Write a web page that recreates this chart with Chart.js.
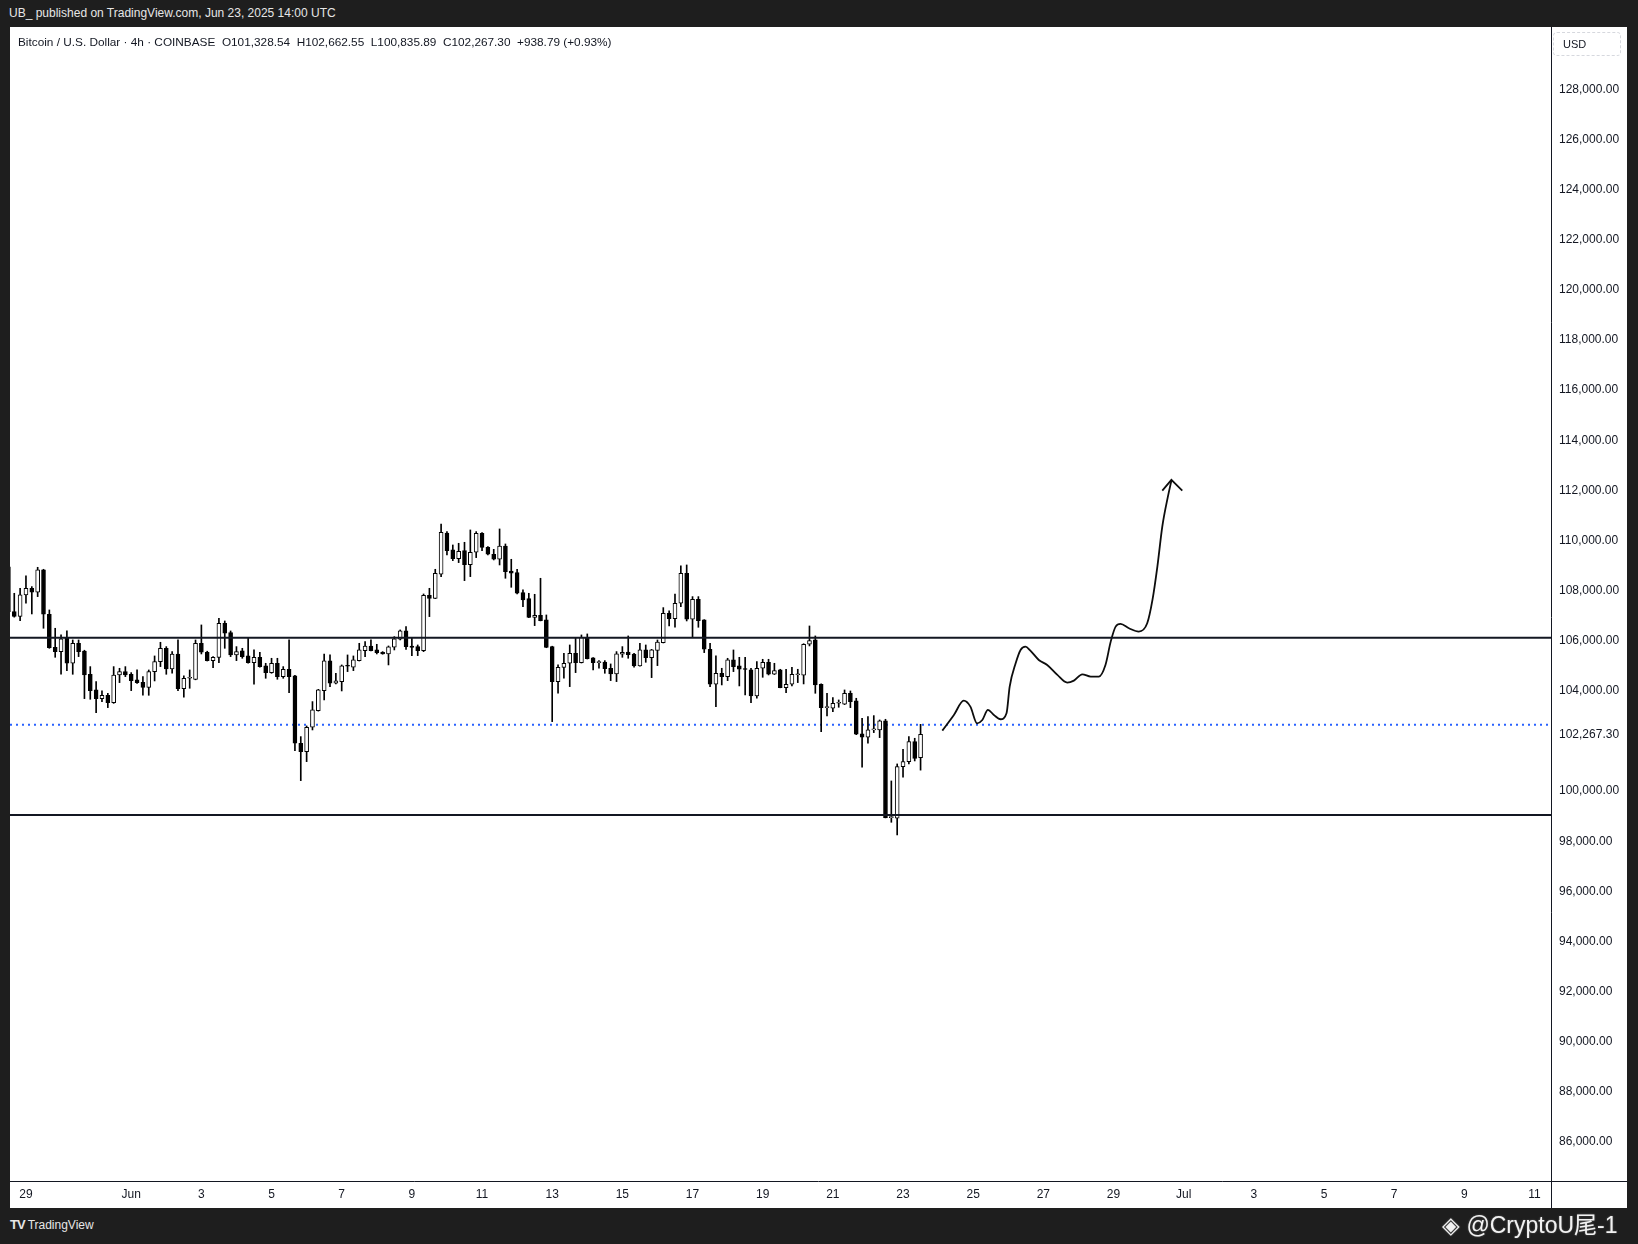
<!DOCTYPE html>
<html>
<head>
<meta charset="utf-8">
<script src="https://cdn.jsdelivr.net/npm/chart.js@4.4.1/dist/chart.umd.min.js"></script>
<style>
html,body{margin:0;padding:0;background:#1e1e1e;width:1638px;height:1244px;overflow:hidden;font-family:'Liberation Sans',Arial,sans-serif;}
#pub{position:absolute;left:9px;top:6px;color:#e6e6e6;font-size:12px;}
#panel{position:absolute;left:10px;top:27px;width:1617px;height:1181px;background:#fff;}
#chart{position:absolute;left:0;top:0;}
#legend{position:absolute;left:8px;top:8px;font-size:11.8px;color:#131722;white-space:pre;}
#usd{position:absolute;left:1543px;top:5px;border:1px dashed #d6d8de;border-radius:4px;font-size:11px;color:#131722;line-height:22px;padding-left:9px;box-sizing:border-box;width:68px;height:24px;}
#footer{position:absolute;left:10px;top:1217px;color:#e6e6e6;font-size:12px;}
#footer b{font-size:13px;letter-spacing:-1px;margin-right:3px;}
#mark{position:absolute;left:1442px;top:1206px;color:#f2f2f2;font-size:23px;font-family:'Liberation Sans','Noto Sans CJK SC',sans-serif;text-shadow:0 0 2px #666;}
</style>
</head>
<body>
<div id="pub">UB_ published on TradingView.com, Jun 23, 2025 14:00 UTC</div>
<div id="panel">
  <canvas id="chart" width="1617" height="1181"></canvas>
  <div id="legend">Bitcoin / U.S. Dollar · 4h · COINBASE  O101,328.54  H102,662.55  L100,835.89  C102,267.30  +938.79 (+0.93%)</div>
  <div id="usd">USD</div>
</div>
<div id="footer"><b>TV</b>TradingView</div>
<div id="mark">◈ @CryptoU尾-1</div>
<script>
// ---- 4h candles, May 28 12:00 -> Jun 23 12:00 (days counted from Jun 1 00:00)
const firstBarDay=-3.5;
const barStep=1/6;

const opens=[108950,107160,106970,107826,108091,107932,108823,107054,105737,105565,
106123,105099,105897,105590,104660,104035,103689,103822,103530,104633,
104767,104660,104434,104341,104141,104767,105166,105697,104873,105471,
104088,104501,104460,105897,105538,105205,105338,106695,106323,105432,
105591,105392,105126,105338,104993,104727,105099,104567,104860,104594,
101907,101574,102546,103210,104008,105192,104301,104368,104993,104940,
105205,105604,105790,105631,105538,105471,105738,106057,106389,105790,
105764,105604,107812,107692,108650,110299,109621,109275,109594,109036,
109528,110286,109727,109448,109249,109780,108783,108717,107918,107679,
106934,107014,106828,105764,104368,104939,105099,105498,105126,106097,
105312,105126,105150,104900,104674,105458,105551,105471,104993,105631,
105325,105617,105923,107094,106881,107493,108690,106855,107653,106828,
105658,104261,104700,104567,105232,104993,104860,104833,103796,104900,
105139,104660,104833,104128,104261,104640,104620,105857,106030,104261,
103330,103304,103503,103463,103902,103596,102280,102146,102439,102439,
102798,98941,98915,100976,101175,101973,101328.54];

const highs=[109050,107892,108091,108584,108158,108929,108850,107227,106496,106230,
106389,106030,106030,105620,104966,104368,103995,103900,104966,104900,
104966,104727,104833,104567,104833,105392,105937,105764,105565,106030,
104594,104833,106030,106629,105580,105365,106895,106788,106389,105764,
105697,106097,105631,105538,105099,105299,105299,104966,106030,104620,
102173,102599,103570,104060,105471,105432,104700,105033,105432,105392,
105897,105963,106030,105857,105565,105790,106163,106429,106562,106097,
105830,107865,108091,108850,110658,110352,109820,109887,109927,110419,
110352,110312,109754,109647,110459,109860,109249,108850,108025,107892,
107852,108491,107027,105780,105033,105498,105830,106097,106230,106270,
105330,105205,105205,105073,105565,105764,106190,105498,105897,105830,
105657,106030,107320,107187,107865,108983,109022,107759,107759,106840,
105897,105392,104900,105299,105631,105338,105338,104900,105166,105259,
105259,105099,104860,104860,104940,104860,105880,106588,106190,104275,
103902,103729,103636,104035,103995,103703,102905,102971,103011,102838,
102865,100404,101083,101668,102173,102107,102662.55];

const lows=[106980,106940,106801,107493,107067,107759,106496,105697,105338,104660,
104806,104660,105365,103689,103663,103131,103570,103330,103500,104328,
104567,104008,104300,103822,103822,104394,104966,104660,104700,104008,
103742,104102,104440,105471,105190,104926,105126,105697,105365,105205,
105299,105100,104261,104940,104501,104700,104461,104501,103929,101614,
100417,101175,102439,103190,103636,104168,104280,103995,104767,104806,
105190,105365,105590,105471,105460,105033,105631,106030,105657,105405,
105405,105565,106961,107680,108557,109421,109195,109116,108397,108557,
109315,109594,109421,109222,109022,108491,108131,107865,107360,106920,
106602,106790,105720,102771,103902,104501,104168,104727,105110,105270,
104833,104900,104700,104408,104368,105338,105299,104940,104980,105139,
104527,105006,105910,106589,106536,107360,106788,106136,106536,105525,
104168,103370,104235,104407,104767,104195,103835,103530,103703,104540,
104633,104650,104120,103929,104195,104328,104275,105791,103902,102373,
102998,103171,103344,103450,103330,102250,100949,101907,102333,102133,
98930,98755,98250,100550,101083,101202,100835.89];

const closes=[107160,106970,107826,108091,107932,108823,107054,105724,105565,106070,
105099,105897,105565,104633,104008,103689,103822,103530,104633,104767,
104633,104407,104328,104141,104767,105166,105697,104873,105471,104088,
104501,104530,105897,105538,105205,105338,106695,106296,105432,105565,
105365,105126,105338,104966,104727,105099,104567,104860,104567,101907,
101574,102546,103237,104035,105192,104301,104394,104993,104980,105232,
105631,105790,105604,105525,105471,105751,106070,106389,105764,105737,
105604,107812,107692,108690,110326,109594,109275,109568,109036,109528,
110286,109727,109448,109249,109780,108757,108690,107892,107626,106934,
107014,106801,105737,104368,104939,105099,105498,105126,106137,105285,
105126,105150,104886,104674,105472,105538,105445,104993,105631,105325,
105631,105950,107094,106881,107493,108690,106855,107653,106801,105658,
104261,104700,104567,105232,104966,104860,104850,103796,104900,105139,
104660,104806,104128,104261,104660,104650,105857,106003,104235,103330,
103350,103503,103510,103902,103570,102266,102146,102439,102460,102798,
98941,98980,100976,101175,101973,101308,102267.30];

// ---- drawn levels
const resistance=106120;
const support=99050;
const priceLine=102650;
const lastPrice=102267.30;

// ---- hand-drawn projection (x in days from Jun 1, y in USD)
const projDays=[23.12,23.45,23.73,23.92,24.11,24.26,24.42,24.59,24.78,24.95,25.04,25.21,25.35,25.49,25.63,25.87,26.11,26.40,26.68,26.87,27.11,27.35,27.58,27.77,27.92,28.06,28.20,28.44,28.72,28.96,29.11,29.25,29.39,29.55,29.65];
const projPrices=[102413,103038,103609,103370,102705,102838,103237,103038,102865,103104,104168,105099,105631,105764,105604,105232,105033,104634,104328,104408,104660,104567,104567,105033,105963,106562,106668,106496,106363,106695,107626,108956,110552,111749,112387];
const arrowDays=[29.39,29.65,29.96];
const arrowPrices=[111990,112420,111990];

// ---- axes
const xMin=-3.455, xMax=40.47;
const yMin=84442, yMax=130487;
const tickDays=[-3,0,2,4,6,8,10,12,14,16,18,20,22,24,26,28,30,32,34,36,38,40];
const tickLabels=['29','Jun','3','5','7','9','11','13','15','17','19','21','23','25','27','29','Jul','3','5','7','9','11'];
const priceTicks=[86000,88000,90000,92000,94000,96000,98000,100000,104000,106000,108000,110000,112000,114000,116000,118000,120000,122000,124000,126000,128000];

const INK='#131722';
const fmt=v=>v.toLocaleString('en-US',{minimumFractionDigits:2,maximumFractionDigits:2});
const barDays=opens.map((_,i)=>firstBarDay+i*barStep);

const framePlugin={
  id:'frame',
  afterDraw(chart){
    const {ctx,chartArea,scales}=chart;
    ctx.save();
    ctx.strokeStyle=INK;ctx.lineWidth=1;
    ctx.beginPath();
    ctx.moveTo(Math.round(chartArea.right)+0.5,0);
    ctx.lineTo(Math.round(chartArea.right)+0.5,chart.height);
    ctx.moveTo(0,Math.round(chartArea.bottom)+0.5);
    ctx.lineTo(chart.width,Math.round(chartArea.bottom)+0.5);
    ctx.stroke();
    // last price label on the price scale
    const y=scales.y.getPixelForValue(lastPrice);
    ctx.fillStyle='#fff';
    ctx.fillRect(chartArea.right+2,y-8,72,22);
    ctx.fillStyle=INK;
    ctx.font='12px "Liberation Sans", Arial, sans-serif';
    ctx.textBaseline='middle';
    ctx.textAlign='left';
    ctx.fillText(fmt(lastPrice),chartArea.right+8,y);
    ctx.restore();
  }
};

const flat=(v)=>[{x:xMin,y:v},{x:xMax,y:v}];

new Chart(document.getElementById('chart'),{
  type:'bar',
  data:{
    datasets:[
      {type:'line',data:flat(resistance),borderColor:INK,borderWidth:2,pointRadius:0,order:0},
      {type:'line',data:flat(support),borderColor:INK,borderWidth:2,pointRadius:0,order:0},
      {type:'line',data:projDays.map((d,i)=>({x:d,y:projPrices[i]})),borderColor:'#0d0d0d',borderWidth:1.8,pointRadius:0,cubicInterpolationMode:'monotone',order:0},
      {type:'line',data:arrowDays.map((d,i)=>({x:d,y:arrowPrices[i]})),borderColor:'#0d0d0d',borderWidth:1.8,pointRadius:0,tension:0,order:0},
      {type:'bar',data:barDays.map((d,i)=>({x:d,y:[opens[i],closes[i]]})),
        backgroundColor:opens.map((o,i)=>closes[i]>=o?'#ffffff':'#000000'),
        borderColor:'#000',borderWidth:1,borderSkipped:false,barThickness:4,minBarLength:1,grouped:false,order:1},
      {type:'bar',data:barDays.map((d,i)=>({x:d,y:[lows[i],highs[i]]})),
        backgroundColor:'#000',borderWidth:0,barThickness:1,grouped:false,order:2},
      {type:'line',data:flat(priceLine),borderColor:'#2962ff',borderWidth:2,borderDash:[2,4],pointRadius:0,order:5}
    ]
  },
  options:{
    responsive:false,animation:false,devicePixelRatio:1,events:[],
    layout:{padding:0},
    plugins:{legend:{display:false},tooltip:{enabled:false}},
    scales:{
      x:{type:'linear',min:xMin,max:xMax,offset:false,
        grid:{display:false,drawTicks:false,offset:false},border:{display:false},
        afterBuildTicks:s=>{s.ticks=tickDays.map(v=>({value:v}));},
        afterFit:s=>{s.height=27;s.paddingLeft=0;s.paddingRight=0;},
        ticks:{autoSkip:false,maxRotation:0,padding:6,color:INK,font:{family:'"Liberation Sans", Arial, sans-serif',size:12},
          callback:(v,i)=>tickLabels[i]}},
      y:{type:'linear',position:'right',min:yMin,max:yMax,
        grid:{display:false,drawTicks:false},border:{display:false},
        afterBuildTicks:s=>{s.ticks=priceTicks.map(v=>({value:v}));},
        afterFit:s=>{s.width=76;s.paddingTop=0;s.paddingBottom=0;},
        ticks:{padding:8,color:INK,font:{family:'"Liberation Sans", Arial, sans-serif',size:12},
          callback:v=>fmt(v)}}
    }
  },
  plugins:[framePlugin]
});
</script>
</body>
</html>
